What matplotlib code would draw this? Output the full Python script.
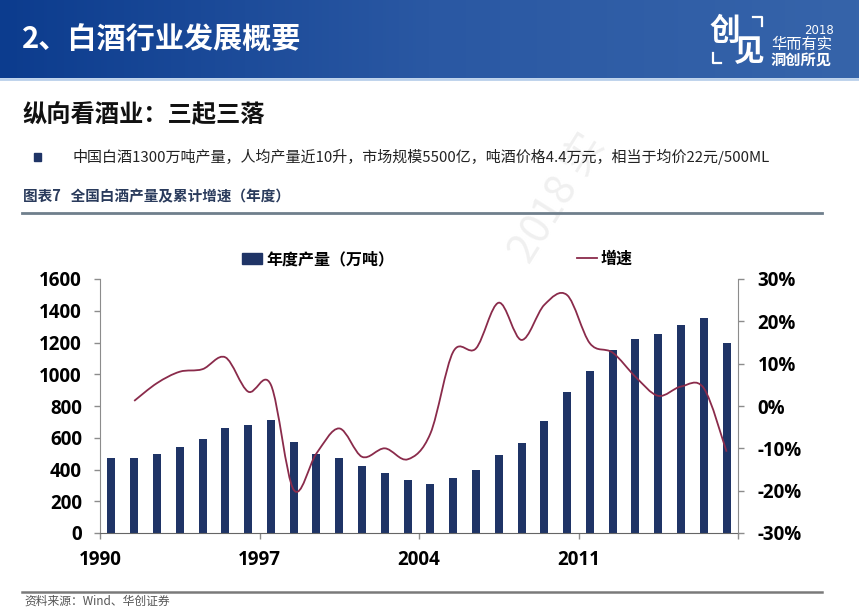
import numpy as np
import matplotlib
matplotlib.use('Agg')
import matplotlib.pyplot as plt
from matplotlib.path import Path
from matplotlib.patches import PathPatch, Rectangle
from matplotlib.lines import Line2D

plt.rcParams['font.family'] = ['Noto Sans CJK SC', 'DejaVu Sans']

# data
years = list(range(1990, 2018))
output = [470, 475, 500, 544, 590, 659, 678, 710, 575, 500, 475, 420, 380, 332,
          310, 348, 395, 493, 569, 706, 888, 1020, 1151, 1224, 1254, 1310, 1354, 1195]
growth = [np.nan, 1.2, 5.4, 8.1, 8.7, 11.5, 3.4, 5.0, -19.8, -11.2, -5.3, -12.0, -10.0, -12.6,
          -6.5, 12.8, 13.6, 24.4, 15.6, 23.9, 26.2, 14.8, 12.6, 6.9, 2.4, 4.6, 4.2, -10.8]
tick_years = [1990, 1997, 2004, 2011]
left_ticks = [0, 200, 400, 600, 800, 1000, 1200, 1400, 1600]
right_ticks = [-30, -20, -10, 0, 10, 20, 30]

W, H = 859, 609
BAR = '#1f3466'
LINE = '#8a2b4b'
AXC = '#8c8c8c'
NUM = 'Open Sans'


def fx(px):
    return px / W


def fy(py):
    return 1 - py / H


def smooth_path(xs, ys):
    # catmull-rom through the points, as bezier segments
    pts = np.column_stack([xs, ys])
    n = len(pts)
    verts = [pts[0]]
    codes = [Path.MOVETO]
    for i in range(n - 1):
        p0 = pts[i - 1] if i > 0 else pts[i]
        p1 = pts[i]
        p2 = pts[i + 1]
        p3 = pts[i + 2] if i + 2 < n else pts[i + 1]
        c1 = p1 + (p2 - p0) / 6
        c2 = p2 - (p3 - p1) / 6
        verts += [c1, c2, p2]
        codes += [Path.CURVE4] * 3
    return Path(verts, codes)


fig = plt.figure(figsize=(W / 100, H / 100), dpi=100)

# slide background / header
bg = fig.add_axes([0, 0, 1, 1])
bg.set_xlim(0, W)
bg.set_ylim(H, 0)
bg.axis('off')
grad = np.linspace(0, 1, 256).reshape(1, -1)
cmap = matplotlib.colors.LinearSegmentedColormap.from_list('hdr', ['#0c3c8e', '#2a58a3', '#3664aa'])
bg.imshow(grad, cmap=cmap, extent=[0, W, 78, 0], aspect='auto', zorder=0)
bg.plot([0, W], [79, 79], color='#b9cfea', lw=2, zorder=1)
bg.text(22, 40, '2、白酒行业发展概要', color='white', fontsize=21, fontweight='bold', va='center', ha='left')

# logo
bg.text(725, 31, '创', color='white', fontsize=22, fontweight='black', ha='center', va='center')
bg.text(749, 52, '见', color='white', fontsize=22, fontweight='black', ha='center', va='center')
bg.plot([753, 762, 762], [17, 17, 26], color='white', lw=1.6)
bg.plot([713, 713, 721], [53, 63, 63], color='white', lw=1.6)
bg.text(834, 30, '2018', color='white', fontsize=8.5, ha='right', va='center', family='DejaVu Sans')
bg.text(771, 44, '华而有实', color='white', fontsize=11, ha='left', va='center')
bg.text(771, 61, '洞创所见', color='white', fontsize=11, ha='left', va='center', fontweight='bold')

# faint watermark
bg.text(558, 198, '2018 实', color='#f0f0f0', fontsize=30, rotation=58, ha='center', va='center', zorder=0)

bg.text(22, 115, '纵向看酒业：三起三落', fontsize=17.5, fontweight='bold', va='center', color='#111111')
bg.add_patch(Rectangle((34, 153), 7, 8, color='#1f3466'))
bg.text(73, 157, '中国白酒1300万吨产量，人均产量近10升，市场规模5500亿，吨酒价格4.4万元，相当于均价22元/500ML',
        fontsize=10.8, va='center', color='#222222')
bg.text(23, 196, '图表7   全国白酒产量及累计增速（年度）', fontsize=10.5, fontweight='bold', va='center', color='#2a3b5c')
bg.plot([22, 822], [213, 213], color='#6f7f8c', lw=2)
bg.plot([22, 822], [592, 592], color='#7a7a7a', lw=1.8)
bg.text(24, 601, '资料来源：Wind、华创证券', fontsize=8.5, va='center', color='#555555', style='italic')

# chart
ax = fig.add_axes([fx(100), fy(533), fx(738) - fx(100), fy(279) - fy(533)])
ax.patch.set_alpha(0)
xpos = np.arange(len(years)) + 0.5
bars = ax.bar(xpos, output, width=0.35, color=BAR, zorder=2, label='年度产量（万吨）')
ax.set_xlim(0, len(years))
ax.set_ylim(0, 1600)
ax.set_yticks(left_ticks)
ax.set_yticklabels([str(v) for v in left_ticks], family=NUM, fontweight='bold', fontsize=13.5)
ax.set_xticks([years.index(y) for y in tick_years] + [len(years)])
ax.set_xticklabels([str(y) for y in tick_years] + [''], family=NUM, fontweight='bold', fontsize=13.5)
ax.tick_params(axis='y', direction='out', length=4, width=1, color=AXC, pad=9)
ax.tick_params(axis='x', direction='out', length=4, width=1, color=AXC, pad=8)
for s in ['top', 'right']:
    ax.spines[s].set_visible(False)
for s in ['left', 'bottom']:
    ax.spines[s].set_color(AXC)
ax.spines['bottom'].set_color('#666666')

ax2 = ax.twinx()
ax2.set_ylim(-30, 30)
ax2.set_yticks(right_ticks)
ax2.set_yticklabels([f'{v}%' for v in right_ticks], family=NUM, fontweight='bold', fontsize=13.5)
ax2.tick_params(axis='y', direction='out', length=4, width=1, color=AXC, pad=10)
for s in ['top', 'left', 'bottom']:
    ax2.spines[s].set_visible(False)
ax2.spines['right'].set_color(AXC)

g = np.array(growth, dtype=float)
ok = ~np.isnan(g)
path = smooth_path(xpos[ok], g[ok])
ax2.add_patch(PathPatch(path, facecolor='none', edgecolor=LINE, lw=1.3, zorder=3))

h1 = Rectangle((0, 0), 1, 1, color=BAR)
h2 = Line2D([], [], color=LINE, lw=1.3)
leg1 = fig.legend([h1], ['年度产量（万吨）'], loc='center', bbox_to_anchor=(fx(318), fy(259)),
                  frameon=False, handlelength=1.25, handleheight=0.65, handletextpad=0.25,
                  prop={'weight': 'bold', 'size': 11.5})
leg2 = fig.legend([h2], ['增速'], loc='center', bbox_to_anchor=(fx(605), fy(259)),
                  frameon=False, handlelength=1.25, handletextpad=0.25,
                  prop={'weight': 'bold', 'size': 11.5})

fig.savefig('out.png', dpi=100)
